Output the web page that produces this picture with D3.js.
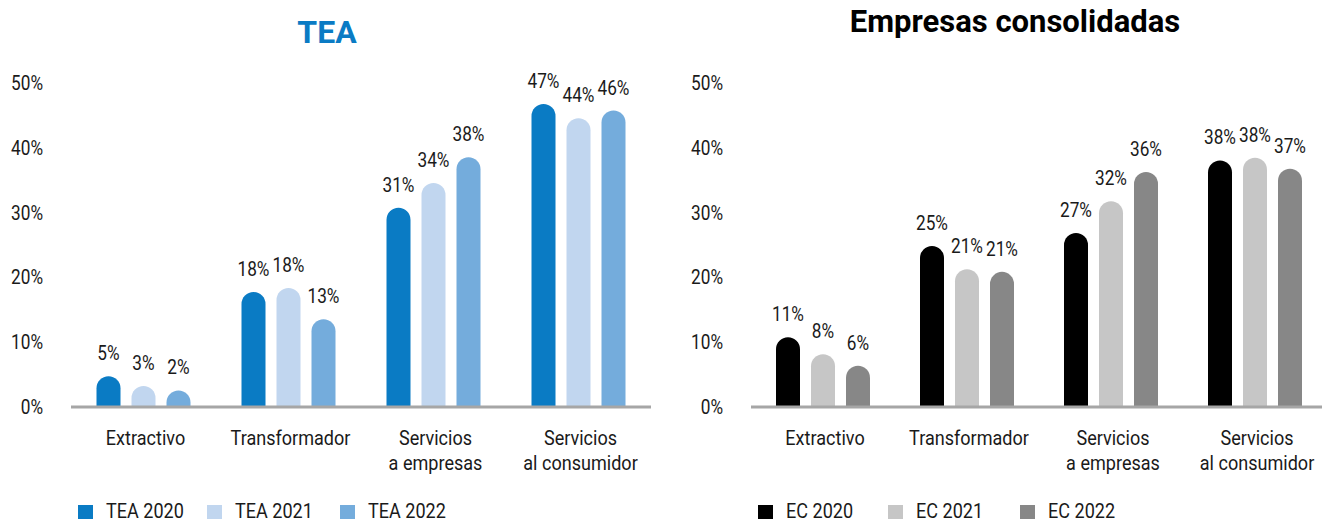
<!DOCTYPE html>
<html>
<head>
    <meta charset="utf-8">
    <title>TEA / Empresas consolidadas</title>
    <script src="https://d3js.org/d3.v7.min.js"></script>
    <style type="text/css">
        body { margin: 0; background: #fff; }
        text { font-family: Roboto, "Noto Sans", sans-serif; fill: #1a1a1a; }
    </style>
</head>
<body>
<script type="text/javascript">
    // data
    let sectors = ["Extractivo", "Transformador", "Servicios\na empresas", "Servicios\nal consumidor"];
    let yTicks = [0, 10, 20, 30, 40, 50];

    let teaSeries = ["TEA 2020", "TEA 2021", "TEA 2022"];
    let tea2020 = [4.6, 17.6, 30.6, 46.6];
    let tea2021 = [3.1, 18.2, 34.4, 44.4];
    let tea2022 = [2.4, 13.4, 38.4, 45.6];
    let teaColors = ["#0a7bc4", "#c1d6ef", "#74acdc"];

    let ecSeries = ["EC 2020", "EC 2021", "EC 2022"];
    let ec2020 = [10.6, 24.7, 26.7, 37.9];
    let ec2021 = [8.0, 21.1, 31.6, 38.3];
    let ec2022 = [6.2, 20.7, 36.1, 36.6];
    let ecColors = ["#000000", "#c6c6c6", "#878787"];

    let width = 1322, height = 522;
    let svg = d3.select("body").append("svg")
        .attr("width", width)
        .attr("height", height);

    let y = d3.scaleLinear().domain([0, 50]).range([406, 82]);

    // Roboto squeezed a bit to get the condensed look
    function ctext(g, x, yy, str, size, anchor, scale) {
        return g.append("text")
            .attr("transform", `translate(${x},${yy}) scale(${scale},1)`)
            .attr("text-anchor", anchor)
            .style("font-size", size + "px")
            .text(str);
    }

    function panel(opt) {
        let g = svg.append("g");

        let x0 = d3.scaleBand().domain(sectors).range([opt.left, opt.right]);
        let x1 = d3.scalePoint().domain(opt.series).range([-35, 35]);
        let bw = 24, r = bw / 2;

        // title
        g.append("text")
            .attr("x", opt.titleX).attr("y", opt.titleY)
            .attr("text-anchor", "middle")
            .style("font-size", opt.titleSize + "px")
            .style("font-weight", "bold")
            .style("fill", opt.titleColor)
            .text(opt.title);

        // y labels
        yTicks.forEach(t => {
            ctext(g, opt.tickX, y(t) + 8, t + "%", 21, "end", 0.82);
        });

        // bars
        opt.series.forEach((s, i) => {
            let vals = opt.values[i];
            sectors.forEach((c, j) => {
                let cx = x0(c) + x0.bandwidth() / 2 + x1(s);
                let top = y(vals[j]), base = y(0);
                g.append("path")
                    .attr("d", `M${cx - r},${base} V${top + r} A${r},${r} 0 0 1 ${cx + r},${top + r} V${base} Z`)
                    .attr("fill", opt.colors[i]);
                ctext(g, cx, top - 16, Math.round(vals[j]) + "%", 21, "middle", 0.82);
            });
        });

        // baseline
        g.append("line")
            .attr("x1", opt.left).attr("x2", opt.right)
            .attr("y1", y(0) + 1).attr("y2", y(0) + 1)
            .attr("stroke", "#a6a6a6")
            .attr("stroke-width", 3);

        // categories
        sectors.forEach(c => {
            let cx = x0(c) + x0.bandwidth() / 2 + 2;
            c.split("\n").forEach((ln, k) => {
                ctext(g, cx, 445 + k * 25, ln, 21, "middle", 0.86);
            });
        });

        // legend
        opt.series.forEach((s, i) => {
            let lx = opt.legendX[i];
            g.append("rect")
                .attr("x", lx).attr("y", 505)
                .attr("width", 15).attr("height", 14)
                .attr("fill", opt.colors[i]);
            ctext(g, lx + 28, 518, s, 21, "start", 0.86);
        });
    }

    panel({
        title: "TEA", titleX: 327, titleY: 43, titleSize: 32, titleColor: "#0a7bc4",
        left: 71, right: 651, tickX: 43,
        series: teaSeries, values: [tea2020, tea2021, tea2022], colors: teaColors,
        legendX: [78, 207, 340]
    });

    panel({
        title: "Empresas consolidadas", titleX: 1015, titleY: 32, titleSize: 31, titleColor: "#000",
        left: 751, right: 1327, tickX: 723,
        series: ecSeries, values: [ec2020, ec2021, ec2022], colors: ecColors,
        legendX: [758, 888, 1020]
    });
</script>
</body>
</html>
